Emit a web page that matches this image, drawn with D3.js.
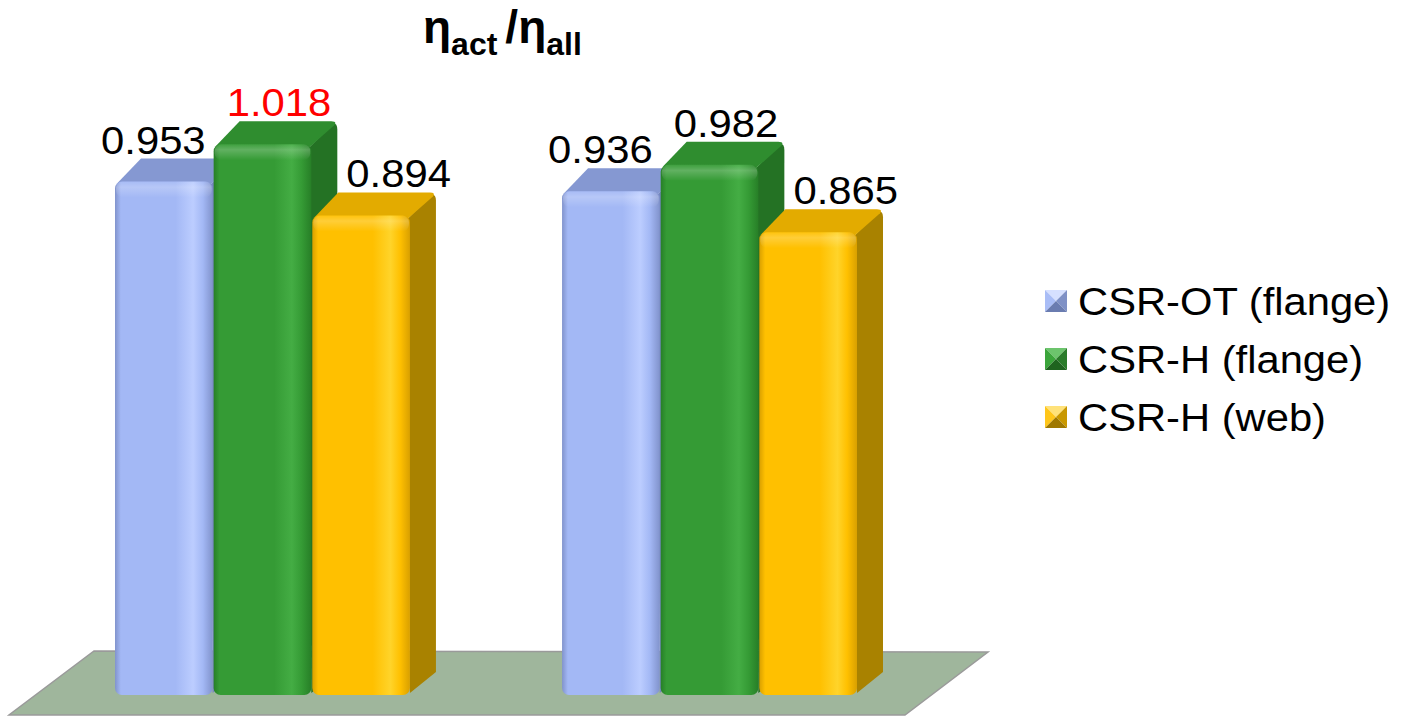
<!DOCTYPE html>
<html>
<head>
<meta charset="utf-8">
<script src="https://cdn.jsdelivr.net/npm/d3@7"></script>
<style>
  html, body { margin: 0; padding: 0; background: #ffffff; }
  svg { display: block; }
  text { font-family: "Liberation Sans", Arial, Helvetica, sans-serif; }
</style>
</head>
<body>
<svg id="chart" width="1404" height="716"></svg>
<script>
// ---- data ----
const categories = ["Group 1", "Group 2"];
const seriesNames = ["CSR-OT (flange)", "CSR-H (flange)", "CSR-H (web)"];
const csrOtFlange = [0.953, 0.936];
const csrHFlange = [1.018, 0.982];
const csrHWeb = [0.894, 0.865];
const seriesValues = [csrOtFlange, csrHFlange, csrHWeb];
const axisMin = 0.06, axisMax = 1.02;
const highlightThreshold = 1.0;

// ---- styles ----
const palette = [
  {front: "#a3b8f5", light: "#bccdff", edge: "#8193cc", top: "#8598d2", side: "#7587bf",
   sw: ["#d6e0ff", "#a9bdf6", "#7f91c6", "#6a7cb0"]},
  {front: "#359b35", light: "#44ad44", edge: "#277f27", top: "#2f8d2f", side: "#247224",
   sw: ["#6cc46c", "#3ba53b", "#2a7c2a", "#1f641f"]},
  {front: "#ffc000", light: "#ffd42a", edge: "#d9a000", top: "#e3ab00", side: "#a98200",
   sw: ["#ffe27a", "#ffc61a", "#c99800", "#9f7800"]}
];
const depth = {dx: 26, dy: -23};

const svg = d3.select("#chart");
const defs = svg.append("defs");

// scales
const x0 = d3.scaleBand().domain(categories).range([115, 858]).paddingInner(0.338).paddingOuter(0);
const x1 = d3.scaleBand().domain(seriesNames).range([0, x0.bandwidth()]).padding(0);
const y = d3.scaleLinear().domain([axisMin, axisMax]).range([695, 143]);

// gradients
palette.forEach((p, i) => {
  const g = defs.append("linearGradient").attr("id", "front" + i)
    .attr("x1", "0").attr("x2", "1").attr("y1", "0").attr("y2", "0");
  [[0, p.edge], [0.06, p.front], [0.62, p.front], [0.8, p.light], [0.9, p.front], [1, p.edge]]
    .forEach(([o, c]) => g.append("stop").attr("offset", o).attr("stop-color", c));
});
const gv = defs.append("linearGradient").attr("id", "bevel")
  .attr("x1", "0").attr("x2", "0").attr("y1", "0").attr("y2", "1");
gv.append("stop").attr("offset", 0).attr("stop-color", "#fff").attr("stop-opacity", 0.05);
gv.append("stop").attr("offset", 0.35).attr("stop-color", "#fff").attr("stop-opacity", 0.22);
gv.append("stop").attr("offset", 1).attr("stop-color", "#fff").attr("stop-opacity", 0);

// floor
const base = y(axisMin);
const xr = x0.range();
const floorPts = [
  [xr[0] - 21, base - 44], [xr[1] + 130, base - 43],
  [xr[1] + 47, base + 20], [xr[0] - 106, base + 20]
];
svg.append("polygon")
  .attr("points", floorPts.map(p => p.join(",")).join(" "))
  .attr("fill", "#9fb69c").attr("stroke", "#9a9a9a").attr("stroke-width", 1.5);

// bars
const barData = [];
categories.forEach((c, ci) => {
  seriesNames.forEach((s, si) => {
    barData.push({cat: c, series: s, si, value: seriesValues[si][ci]});
  });
});

const bars = svg.append("g").selectAll("g.bar").data(barData).join("g").attr("class", "bar");
bars.each(function(d) {
  const g = d3.select(this);
  const p = palette[d.si];
  const xl = x0(d.cat) + x1(d.series);
  const xrr = xl + x1.bandwidth() - 1;
  const yt = y(d.value);
  const yb = base;
  const {dx, dy} = depth;
  // side face
  g.append("path")
    .attr("d", `M${xrr - 3},${yt + 4} L${xrr + dx - 4},${yt + dy + 2} Q${xrr + dx},${yt + dy + 2} ${xrr + dx},${yt + dy + 8} L${xrr + dx},${yb + dy} L${xrr},${yb - 2} Z`)
    .attr("fill", p.side);
  // top face
  g.append("path")
    .attr("d", `M${xl + 2},${yt + 2} L${xl + dx},${yt + dy} L${xrr + dx - 6},${yt + dy} Q${xrr + dx},${yt + dy} ${xrr + dx - 3},${yt + dy + 4} L${xrr - 2},${yt + 3} Z`)
    .attr("fill", p.top);
  // front face
  g.append("rect")
    .attr("x", xl).attr("y", yt).attr("width", xrr - xl).attr("height", yb - yt)
    .attr("rx", 7).attr("ry", 7)
    .attr("fill", `url(#front${d.si})`);
  g.append("rect")
    .attr("x", xl + 1).attr("y", yt).attr("width", xrr - xl - 2).attr("height", 16)
    .attr("rx", 7).attr("ry", 7)
    .attr("fill", "url(#bevel)");
});

// value labels
const labelOffset = [-11, 16, 37];
svg.append("g").selectAll("text").data(barData).join("text")
  .attr("transform", d => {
    const cx = x0(d.cat) + x1(d.series) + x1.bandwidth() / 2 + labelOffset[d.si];
    return `translate(${cx},${y(d.value) - 28}) scale(1.1,1)`;
  })
  .attr("text-anchor", "middle")
  .attr("font-size", 38)
  .attr("fill", d => d.value > highlightThreshold ? "#ff0000" : "#000000")
  .text(d => d3.format(".3f")(d.value));

// title
const title = svg.append("text").attr("x", 423).attr("y", 43).attr("font-weight", "bold").attr("fill", "#000");
title.append("tspan").attr("font-size", 46).text("η");
title.append("tspan").attr("font-size", 32).attr("dy", 12).text("act");
title.append("tspan").attr("font-size", 46).attr("dy", -12).attr("dx", 8).text("/");
title.append("tspan").attr("font-size", 46).text("η");
title.append("tspan").attr("font-size", 32).attr("dy", 12).text("all");

// legend
const legend = svg.append("g").attr("transform", "translate(1045,290)");
const li = legend.selectAll("g").data(seriesNames).join("g")
  .attr("transform", (d, i) => `translate(0,${i * 58})`);
li.each(function(d, i) {
  const g = d3.select(this);
  const s = 22, c = s / 2;
  const cols = palette[i].sw;
  const tris = [
    [[0, 0], [s, 0], [c, c]],
    [[0, 0], [0, s], [c, c]],
    [[s, 0], [s, s], [c, c]],
    [[0, s], [s, s], [c, c]]
  ];
  tris.forEach((t, k) => g.append("polygon").attr("points", t.map(p => p.join(",")).join(" ")).attr("fill", cols[k]));
});
li.append("text")
  .attr("transform", "translate(33,25) scale(1.07,1)")
  .attr("font-size", 39)
  .attr("fill", "#000")
  .text(d => d);
</script>
</body>
</html>
